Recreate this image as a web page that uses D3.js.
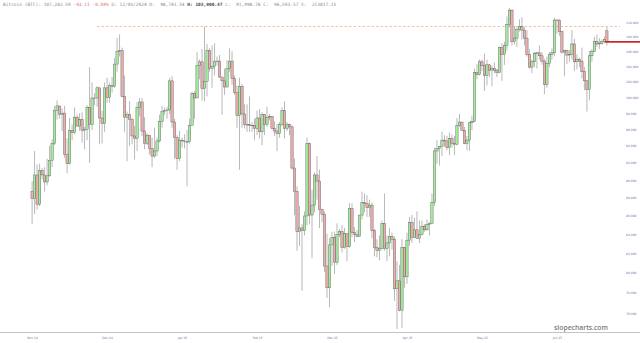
<!DOCTYPE html>
<html><head><meta charset="utf-8">
<script src="https://cdn.jsdelivr.net/npm/d3@7"></script>
<style>html,body{margin:0;padding:0;background:#fff;} svg{display:block;}</style>
</head><body>
<svg id="c" width="640" height="343"></svg>
<script>
// Daily candles, Bitcoin, values in thousands of USD, first candle 2024-11-12
const startDate = new Date(2024, 10, 12);
const openK = [
 88.7,87.9,90.6,87.3,91.1,90.6,89.8,90.5,92.3,94.3,98.3,98.9,97.8,98.0,93.0,91.9,95.9,95.6,97.5,
 96.4,97.2,95.9,96.0,98.7,96.6,99.9,99.9,101.2,97.4,96.7,101.2,100.0,101.5,101.4,104.3,106.0,106.1,100.1,97.5,97.8,97.2,95.2,94.9,98.7,99.4,95.8,94.3,95.3,93.7,92.8,
 93.4,94.6,97.0,98.2,98.3,98.4,102.1,96.9,95.0,92.5,94.7,94.6,94.5,94.5,96.5,100.5,99.9,104.1,104.6,101.1,102.0,106.1,103.7,104.0,104.7,104.7,102.6,102.1,101.3,103.7,104.7,
 102.4,100.6,97.7,101.4,97.9,96.6,96.6,96.5,96.5,96.1,97.4,95.7,97.8,96.6,97.5,97.6,96.1,95.8,95.5,96.6,98.3,96.1,96.6,96.3,91.4,88.7,84.3,84.7,
 84.4,86.0,94.3,86.1,87.2,90.6,89.9,86.7,86.2,80.7,78.5,82.9,83.7,81.1,84.0,84.3,82.6,84.1,82.7,86.8,84.2,84.0,83.8,86.1,87.5,87.4,86.9,87.2,84.4,82.6,82.3,
 82.5,85.2,82.5,83.1,83.8,83.5,78.4,79.2,76.3,82.6,79.6,83.4,85.3,83.7,84.5,83.6,84.0,84.9,84.5,85.1,85.2,87.5,93.4,93.7,93.9,94.7,94.6,93.8,94.9,94.3,
 94.2,96.5,96.9,95.9,94.3,94.7,96.8,97.0,103.2,102.9,104.6,104.1,102.8,104.2,103.5,103.7,103.5,103.2,106.5,105.6,106.8,109.7,111.7,107.3,107.8,109.0,109.4,108.9,107.8,105.6,103.9,
 104.6,105.7,105.8,105.4,104.7,101.6,104.4,105.6,105.8,110.3,110.3,108.7,105.9,106.1,105.5,105.6,107.0,104.6,104.9,104.7,103.3,102.1,101.0,105.4,106.0,107.3,107.0,107.1,107.3,108.8
];
const highK = [
 89.9,93.4,91.8,91.9,91.4,91.5,92.5,94.0,94.8,98.9,99.6,98.9,98.6,98.9,94.9,97.4,96.6,98.7,97.8,
 98.0,98.1,96.3,99.0,103.9,101.9,100.5,101.4,101.2,98.3,101.9,102.5,101.9,102.6,105.1,107.8,108.3,106.5,102.8,98.2,99.5,97.4,96.4,99.4,99.9,99.9,97.5,95.5,95.3,95.0,96.2,
 95.0,97.8,98.9,98.7,98.8,102.5,102.7,97.3,95.3,95.8,95.0,95.4,95.9,97.3,100.7,100.8,105.9,104.9,106.3,109.4,107.0,106.4,106.8,107.1,105.3,105.5,102.6,103.7,104.8,106.4,106.0,
 102.8,101.5,102.5,101.7,99.1,99.1,100.1,96.9,97.3,98.3,98.5,98.1,97.9,98.8,97.9,97.6,97.0,96.7,96.9,98.7,99.5,96.9,96.7,96.5,92.5,89.3,87.1,85.1,
 86.5,95.0,94.4,88.9,90.9,92.8,91.2,86.8,86.5,84.1,83.6,84.3,84.3,85.2,84.6,85.0,84.7,84.1,87.4,87.4,84.8,84.5,86.1,88.7,88.5,88.3,87.8,87.5,84.6,83.5,83.9,
 85.5,88.5,83.9,84.7,84.2,83.8,81.2,80.8,83.5,82.7,84.2,85.9,86.1,85.8,86.5,85.5,85.5,85.1,85.6,85.3,88.5,93.8,94.7,94.0,95.7,95.3,95.2,95.6,95.4,95.2,
 97.4,97.9,96.9,96.3,95.2,96.9,97.7,103.7,104.3,104.9,104.9,105.7,104.9,104.3,104.1,104.5,103.7,106.6,107.1,107.3,110.8,112.0,111.8,109.5,109.3,110.4,110.7,109.3,108.9,106.3,104.9,
 105.9,105.9,106.8,105.9,105.0,105.3,105.9,106.4,110.6,110.4,110.4,108.8,106.2,106.2,106.2,108.9,107.7,105.6,105.2,106.5,103.9,102.2,106.1,106.3,108.0,108.3,107.8,107.6,108.0,109.3
];
const lowK = [
 85.1,86.2,86.7,87.1,90.1,88.7,89.4,90.4,91.5,94.1,97.2,97.3,95.8,92.6,90.8,91.8,94.7,95.4,96.4,
 95.8,94.4,93.6,94.7,92.0,95.9,99.0,98.8,94.2,94.3,95.7,99.3,99.3,100.6,101.2,103.3,105.3,100.0,95.7,92.2,94.0,94.2,92.4,93.4,97.6,95.2,93.6,94.1,93.0,91.5,92.6,
 92.8,94.4,96.2,97.8,97.3,97.9,96.2,92.5,91.2,92.2,93.8,93.7,89.3,94.3,96.5,97.3,99.9,102.3,99.6,99.5,100.1,103.3,101.2,102.8,104.1,102.5,97.8,100.3,101.3,103.3,101.6,
 100.3,96.2,91.2,96.2,96.1,95.7,95.7,95.7,94.7,95.3,94.9,94.1,95.3,96.3,97.1,96.0,95.2,93.4,95.0,96.4,94.9,95.8,95.3,91.2,86.1,82.3,82.8,78.2,
 83.9,85.0,85.1,81.5,86.4,87.8,84.7,85.3,80.1,77.5,76.6,80.7,79.9,80.8,83.7,82.1,82.5,81.2,82.6,83.7,83.2,83.7,83.8,85.6,86.4,85.9,85.9,83.6,81.7,81.6,81.3,
 82.4,82.3,81.2,81.7,82.4,77.2,74.5,76.2,74.6,78.5,78.9,82.8,83.1,83.7,83.6,83.1,83.9,84.3,84.4,83.9,85.1,87.1,91.9,91.7,92.8,93.9,93.5,92.9,93.8,92.9,
 94.1,96.3,95.8,94.2,93.5,93.4,95.9,96.9,102.3,102.8,103.4,100.8,101.5,102.6,101.4,103.1,102.6,103.1,102.1,104.2,106.1,109.3,106.8,106.9,106.6,108.7,107.6,106.8,105.3,103.7,103.1,
 103.9,103.7,104.9,104.2,100.4,101.2,103.9,104.9,105.3,108.4,108.1,105.7,102.7,104.3,104.6,104.9,103.4,103.6,103.9,102.4,100.9,98.2,99.6,104.6,105.9,106.6,106.3,106.9,107.1,106.8
];
const closeK = [
 87.9,90.6,87.3,91.1,90.6,89.8,90.5,92.3,94.3,98.3,98.9,97.8,98.0,93.0,91.9,95.9,95.6,97.5,96.4,
 97.2,95.9,96.0,98.7,96.6,99.9,99.9,101.2,97.4,96.7,101.2,100.0,101.5,101.4,104.3,106.0,106.1,100.1,97.5,97.8,97.2,95.2,94.9,98.7,99.4,95.8,94.3,95.3,93.7,92.8,93.4,
 94.6,97.0,98.2,98.3,98.4,102.1,96.9,95.0,92.5,94.7,94.6,94.5,94.5,96.5,100.5,99.9,104.1,104.6,101.1,102.0,106.1,103.7,104.0,104.7,104.7,102.6,102.1,101.3,103.7,104.7,102.4,
 100.6,97.7,101.4,97.9,96.6,96.6,96.5,96.5,96.1,97.4,95.7,97.8,96.6,97.5,97.6,96.1,95.8,95.5,96.6,98.3,96.1,96.6,96.3,91.4,88.7,84.3,84.7,84.4,
 86.0,94.3,86.1,87.2,90.6,89.9,86.7,86.2,80.7,78.5,82.9,83.7,81.1,84.0,84.3,82.6,84.1,82.7,86.8,84.2,84.0,83.8,86.1,87.5,87.4,86.9,87.2,84.4,82.6,82.3,82.5,
 85.2,82.5,83.1,83.8,83.5,78.4,79.2,76.3,82.6,79.6,83.4,85.3,83.7,84.5,83.6,84.0,84.9,84.5,85.1,85.2,87.5,93.4,93.7,93.9,94.7,94.6,93.8,94.9,94.3,94.2,
 96.5,96.9,95.9,94.3,94.7,96.8,97.0,103.2,102.9,104.6,104.1,102.8,104.2,103.5,103.7,103.5,103.2,106.5,105.6,106.8,109.7,111.7,107.3,107.8,109.0,109.4,108.9,107.8,105.6,103.9,104.6,
 105.7,105.8,105.4,104.7,101.6,104.4,105.6,105.8,110.3,110.3,108.7,105.9,106.1,105.5,105.6,107.0,104.6,104.9,104.7,103.3,102.1,101.0,105.4,106.0,107.3,107.0,107.1,107.3,107.6,107.3
];
const xTickLabels = ["Nov 24","Dec 24","Jan 25","Feb 25","Mar 25","Apr 25","May 25","Jun 25"];
const xTickIndex = [0,30,60,90,120,150,180,210];
const yTicksK = [76,78,80,82,84,86,88,90,92,94,96,98,100,102,104,106,108,110];
const resistanceK = 109.4;      // dashed level
const resistanceStart = 26;     // candle index where the dashed level starts
const lastPriceK = 107.28;
const headerParts = [
  {t:"Bitcoin (BTC): 107,282.59 ", c:"#8a8a8a", w:"normal"},
  {t:"-43.11 -0.04%", c:"#e07070", w:"normal"},
  {t:" D: 12/03/2024 O:  98,741.54 ", c:"#8a8a8a", w:"normal"},
  {t:"H: 103,900.47", c:"#444", w:"bold"},
  {t:" L:  91,998.78 C:  96,593.57 V:  213817.15", c:"#8a8a8a", w:"normal"}
];

const n = closeK.length;
const data = d3.range(n).map(i => ({
  i, date: d3.timeDay.offset(startDate, i),
  o: openK[i], h: highK[i], l: lowK[i], c: closeK[i]
}));

const svg = d3.select("#c");
const x = d3.scaleBand().domain(d3.range(n)).range([30.75, 608.25]).padding(0.08);
const y = d3.scaleLog().domain([74.5, 112]).range([329, 8]);
const cx = i => x(i) + x.bandwidth() / 2;

// x axis line
svg.append("line").attr("x1", 0).attr("x2", 640).attr("y1", 332.5).attr("y2", 332.5)
  .attr("stroke", "#c4c4c4").attr("stroke-width", 1);

// watermark
svg.append("text").attr("x", 608).attr("y", 329.5).attr("text-anchor", "end")
  .attr("font-family", "Open Sans, sans-serif").attr("font-size", 6.8).attr("font-weight", 600)
  .attr("fill", "#7a7a7a").text("slopecharts.com");

// dashed level
svg.append("line").attr("x1", cx(resistanceStart)).attr("x2", 620)
  .attr("y1", y(resistanceK)).attr("y2", y(resistanceK))
  .attr("stroke", "#eba57e").attr("stroke-width", 0.7).attr("stroke-dasharray", "2.5,2");

// candles
const g = svg.append("g");
g.selectAll("line.w").data(data).join("line").attr("class", "w")
  .attr("x1", d => cx(d.i)).attr("x2", d => cx(d.i))
  .attr("y1", d => y(d.h)).attr("y2", d => y(d.l))
  .attr("stroke", "#9a9a9a").attr("stroke-width", 0.7);
g.selectAll("rect").data(data).join("rect")
  .attr("x", d => x(d.i)).attr("width", x.bandwidth())
  .attr("y", d => y(Math.max(d.o, d.c)))
  .attr("height", d => Math.max(0.6, Math.abs(y(d.o) - y(d.c))))
  .attr("fill", d => d.c >= d.o ? "#a2ec9c" : "#efacac")
  .attr("stroke", "#555").attr("stroke-width", 0.4);

// last price line
svg.append("line").attr("x1", 605).attr("x2", 640)
  .attr("y1", y(lastPriceK)).attr("y2", y(lastPriceK))
  .attr("stroke", "#c92a2a").attr("stroke-width", 1.8);

// y axis (right)
const yAxis = d3.axisRight(y).tickValues(yTicksK).tickSize(0)
  .tickFormat(d => d3.format(",")(d * 1000));
const ya = svg.append("g").attr("transform", "translate(624,0)").call(yAxis);
ya.select(".domain").remove();
ya.selectAll("text").attr("font-size", 3).attr("font-family", "DejaVu Sans, sans-serif")
  .attr("fill", "#6a73a8").attr("x", 2);

// x axis labels
const xAxis = d3.axisBottom(d3.scaleLinear().domain([0, n - 1]).range([cx(0), cx(n - 1)]))
  .tickValues(xTickIndex).tickSize(0).tickFormat((d, k) => xTickLabels[k]);
const xa = svg.append("g").attr("transform", "translate(0,333)").call(xAxis);
xa.select(".domain").remove();
xa.selectAll("text").attr("font-size", 3).attr("font-family", "DejaVu Sans, sans-serif")
  .attr("fill", "#6a73a8").attr("dy", "0.9em");

// header
const ht = svg.append("text").attr("x", 3).attr("y", 6)
  .attr("font-family", "DejaVu Sans Mono, monospace").attr("font-size", 4.5);
headerParts.forEach(p => ht.append("tspan").attr("fill", p.c).attr("font-weight", p.w)
  .attr("xml:space", "preserve").text(p.t));
ht.attr("xml:space", "preserve");
</script>
</body></html>
